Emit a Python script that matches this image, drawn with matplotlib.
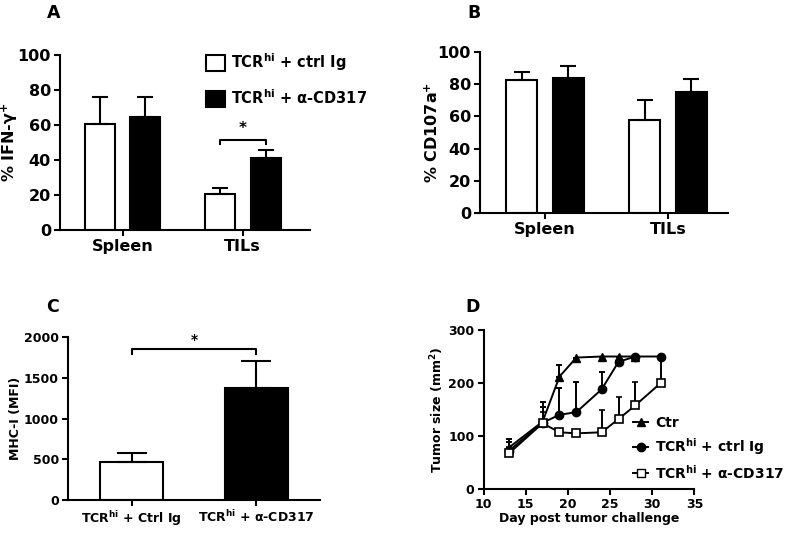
import matplotlib
matplotlib.use('Agg')
import matplotlib.pyplot as plt
import numpy as np
from matplotlib.lines import Line2D
from matplotlib.patches import Patch

plt.rcParams['font.family'] = ['DejaVu Sans']
plt.rcParams['font.weight'] = 'bold'
plt.rcParams['mathtext.fontset'] = 'custom'
plt.rcParams['mathtext.rm'] = 'DejaVu Sans:bold'
plt.rcParams['mathtext.bf'] = 'DejaVu Sans:bold'
plt.rcParams['mathtext.default'] = 'bf'

# panel A / B data
cats = ['Spleen', 'TILs']
ifng_ctrl = [60.5, 20.5]
ifng_ctrl_err = [15.5, 3.5]
ifng_cd317 = [64.5, 41]
ifng_cd317_err = [11.5, 4.5]
cd107_ctrl = [82.6, 58]
cd107_ctrl_err = [5, 12]
cd107_cd317 = [84, 75]
cd107_cd317_err = [7.5, 8]

# panel C data
mhc_groups = ['TCR$^{hi}$ + Ctrl Ig', 'TCR$^{hi}$ + \u03b1-CD317']
mhc = [470, 1370]
mhc_err = [110, 330]

# panel D data
days = [13, 17, 19, 21, 24, 26, 28, 31]
ctr_days = [13, 17, 19, 21, 24, 26, 28]
ctr = [78, 127, 212, 248, 250, 250, 250]
ctr_err = [17, 38, 22, 0, 0, 0, 0]
ctrl_ig = [72, 125, 140, 145, 188, 240, 250, 250]
ctrl_ig_err = [16, 30, 50, 57, 32, 0, 0, 0]
cd317 = [67, 124, 107, 105, 107, 132, 158, 200]
cd317_err = [13, 21, 0, 0, 42, 41, 44, 50]

lab_ctrl = 'TCR$^{hi}$ + ctrl Ig'
lab_cd317 = 'TCR$^{hi}$ + \u03b1-CD317'

W, H = 795, 533
fig = plt.figure(figsize=(W / 100, H / 100), dpi=100)


def rect(l, t, r, b):
    return [l / W, 1 - b / H, (r - l) / W, (b - t) / H]


def fpos(x, y):
    return (x / W, 1 - y / H)


def style(ax, fs=10):
    for s in ['top', 'right']:
        ax.spines[s].set_visible(False)
    for s in ['left', 'bottom']:
        ax.spines[s].set_linewidth(1.5)
    ax.tick_params(width=1.5, length=4, labelsize=fs, direction='out', pad=2.5)
    for t in ax.get_xticklabels() + ax.get_yticklabels():
        t.set_fontweight('bold')


def grouped(ax, v1, e1, v2, e2, xlim):
    x = np.arange(len(cats))
    ax.bar(x - 0.19, v1, 0.25, color='white', edgecolor='black', linewidth=1.5,
           yerr=[np.zeros(len(e1)), e1],
           error_kw=dict(capsize=6, elinewidth=1.5, capthick=1.5), zorder=2)
    ax.bar(x + 0.19, v2, 0.25, color='black', edgecolor='black', linewidth=1.5,
           yerr=[np.zeros(len(e2)), e2],
           error_kw=dict(capsize=6, elinewidth=1.5, capthick=1.5), zorder=2)
    ax.set_xticks(x)
    ax.set_xticklabels(cats, fontweight='bold')
    ax.set_xlim(*xlim)
    ax.set_ylim(0, 100)
    ax.set_yticks(range(0, 101, 20))
    style(ax, 11.5)


# A
axA = fig.add_axes(rect(60, 55, 310, 230))
grouped(axA, ifng_ctrl, ifng_ctrl_err, ifng_cd317, ifng_cd317_err, (-0.52, 1.56))
axA.set_ylabel('% IFN-\u03b3$^{+}$', fontsize=11.5, fontweight='bold')
axA.yaxis.set_label_coords(-0.16, 0.5)
axA.plot([1 - 0.19, 1 - 0.19, 1 + 0.19, 1 + 0.19], [49, 51.5, 51.5, 49], color='black', lw=1.5)
axA.text(1, 53.5, '*', ha='center', va='bottom', fontsize=11, fontweight='bold')
fig.legend([Patch(facecolor='white', edgecolor='black', linewidth=1.5),
            Patch(facecolor='black', edgecolor='black', linewidth=1.5)],
           [lab_ctrl, lab_cd317], loc='upper left', bbox_to_anchor=fpos(206, 51),
           frameon=False, fontsize=10.5, handlelength=1.3, handleheight=1.3,
           labelspacing=1.05, handletextpad=0.4, borderpad=0, borderaxespad=0)
fig.text(*fpos(47, 13), 'A', fontsize=12.5, fontweight='bold', va='center')

# B
axB = fig.add_axes(rect(480, 52, 728, 213))
grouped(axB, cd107_ctrl, cd107_ctrl_err, cd107_cd317, cd107_cd317_err, (-0.53, 1.49))
axB.set_ylabel('% CD107a$^{+}$', fontsize=11.5, fontweight='bold')
axB.yaxis.set_label_coords(-0.157, 0.5)
fig.text(*fpos(467, 13), 'B', fontsize=12.5, fontweight='bold', va='center')

# C
axC = fig.add_axes(rect(68, 337, 320, 500))
xc = np.arange(len(mhc_groups))
axC.bar(xc, mhc, 0.51, color=['white', 'black'], edgecolor='black', linewidth=1.5,
        yerr=[np.zeros(len(mhc_err)), mhc_err],
        error_kw=dict(capsize=11, elinewidth=1.5, capthick=1.5), zorder=2)
axC.set_xticks(xc)
axC.set_xticklabels(mhc_groups, fontweight='bold')
axC.set_xlim(-0.51, 1.51)
axC.set_ylim(0, 2000)
axC.set_yticks(range(0, 2001, 500))
style(axC, 9)
axC.set_ylabel('MHC-I (MFI)', fontsize=9, fontweight='bold')
axC.yaxis.set_label_coords(-0.183, 0.5)
axC.plot([0, 0, 1, 1], [1790, 1850, 1850, 1790], color='black', lw=1.5)
axC.text(0.5, 1880, '*', ha='center', va='bottom', fontsize=10, fontweight='bold')
fig.text(*fpos(46, 307), 'C', fontsize=12.5, fontweight='bold', va='center')

# D
axD = fig.add_axes(rect(483.5, 330, 694.5, 489))
kw = dict(color='black', lw=1.4, capsize=2.5, elinewidth=1.4, capthick=1.4, ms=6)
axD.errorbar(ctr_days, ctr, yerr=[np.zeros(len(ctr_err)), ctr_err], marker='^', **kw)
axD.errorbar(days, ctrl_ig, yerr=[np.zeros(len(ctrl_ig_err)), ctrl_ig_err], marker='o', **kw)
axD.errorbar(days, cd317, yerr=[np.zeros(len(cd317_err)), cd317_err], marker='s',
             mfc='white', mec='black', mew=1.2, **kw)
axD.set_xlim(10, 35)
axD.set_ylim(0, 300)
axD.set_xticks(range(10, 36, 5))
axD.set_yticks(range(0, 301, 100))
style(axD, 9)
axD.set_ylabel('Tumor size (mm$^{2}$)', fontsize=9, fontweight='bold')
axD.yaxis.set_label_coords(-0.178, 0.5)
axD.set_xlabel('Day post tumor challenge', fontsize=9, fontweight='bold', labelpad=1)
hD = [Line2D([], [], color='black', marker='^', lw=1.4, ms=6),
      Line2D([], [], color='black', marker='o', lw=1.4, ms=6),
      Line2D([], [], color='black', marker='s', mfc='white', lw=1.4, ms=6)]
fig.legend(hD, ['Ctr', lab_ctrl, lab_cd317], loc='upper left',
           bbox_to_anchor=fpos(633, 416), frameon=False, fontsize=10,
           handlelength=1.1, handletextpad=0.5, labelspacing=0.45,
           borderpad=0, borderaxespad=0)
fig.text(*fpos(465, 307), 'D', fontsize=12.5, fontweight='bold', va='center')

fig.savefig('out.png', dpi=100)
